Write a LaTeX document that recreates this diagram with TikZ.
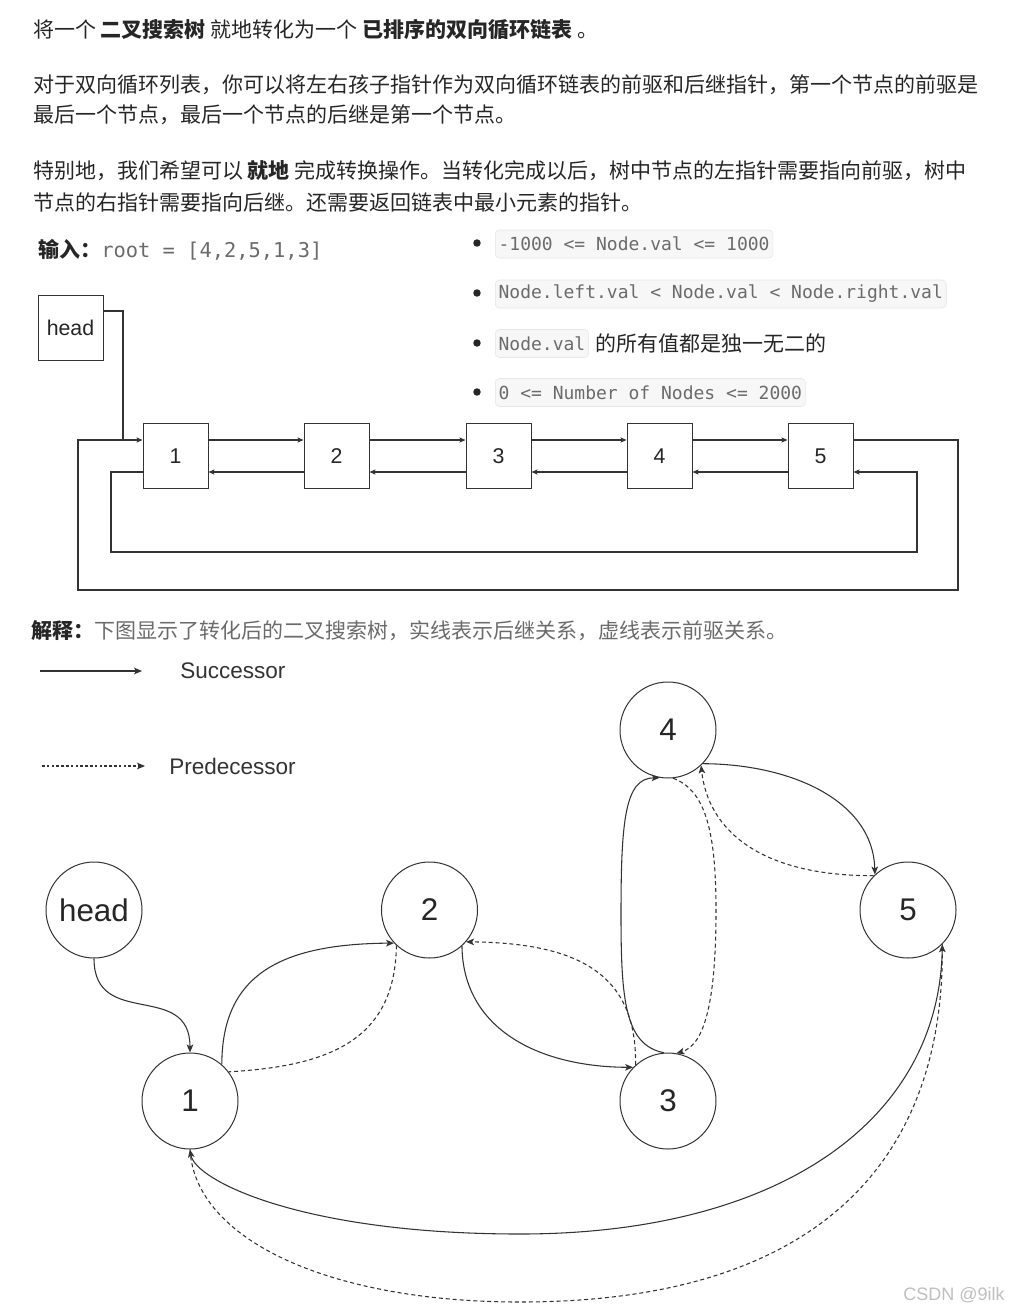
\documentclass[tikz,border=0pt]{standalone}
\usepackage{fontspec}
\setmainfont{Liberation Sans}
\setmonofont{DejaVu Sans Mono}
\newfontfamily\cjk{Noto Sans CJK SC}
\usetikzlibrary{arrows.meta,calc}
\definecolor{txt}{HTML}{262626}
\definecolor{gtxt}{HTML}{6B6B6B}
\definecolor{codefill}{HTML}{F7F7F7}
\definecolor{codeline}{HTML}{E6E6E6}
\definecolor{ln}{HTML}{333333}
\definecolor{wm}{HTML}{BFBFBF}
\begin{document}
\begin{tikzpicture}[x=0.75pt,y=-0.75pt,
  cjkline/.style={anchor=west,inner sep=0pt,font=\cjk\fontsize{15.75pt}{18pt}\selectfont,text=txt},
  codebox/.style={draw=codeline,fill=codefill,rounded corners=3pt,inner xsep=2.5pt,inner ysep=0pt,minimum height=21pt,anchor=west,font=\ttfamily\fontsize{13.5pt}{16pt}\selectfont,text=gtxt},
  sq/.style={draw=ln,line width=0.75pt,minimum size=48.75pt,inner sep=0pt,font=\fontsize{16pt}{19pt}\selectfont,text=txt},
  circ/.style={circle,draw=ln,line width=0.75pt,minimum size=72pt,inner sep=0pt,font=\fontsize{23.5pt}{28pt}\selectfont,text=txt},
  conn/.style={draw=ln,line width=0.8pt},
  arr/.style={-{Stealth[length=6pt,width=5pt,inset=1.5pt]}},
  sarr/.style={-{Stealth[length=4.5pt,width=3.8pt,inset=1pt]}},
  pred/.style={dash pattern=on 3pt off 2.2pt},
  legtext/.style={anchor=west,inner sep=0pt,font=\fontsize{16.9pt}{20pt}\selectfont,text=ln}
]
\useasboundingbox[fill=white] (0,0) rectangle (1008,1313);

% ---------- header text ----------
\node[cjkline] (t1) at (33,30) {将一个 \textbf{二叉搜索树} 就地转化为一个 \textbf{已排序的双向循环链表} 。};
\node[cjkline] (t2) at (33,85) {对于双向循环列表，你可以将左右孩子指针作为双向循环链表的前驱和后继指针，第一个节点的前驱是};
\node[cjkline] (t3) at (33,115) {最后一个节点，最后一个节点的后继是第一个节点。};
\node[cjkline] (t4) at (33,171) {特别地，我们希望可以 \textbf{就地} 完成转换操作。当转化完成以后，树中节点的左指针需要指向前驱，树中};
\node[cjkline] (t5) at (33,202) {节点的右指针需要指向后继。还需要返回链表中最小元素的指针。};

\node[cjkline] (t6) at (38,250) {\textbf{输入：}{\ttfamily\color{gtxt}\fontsize{15.3pt}{18pt}\selectfont root = [4,2,5,1,3]}};

% ---------- bullets ----------
\foreach \yy in {243,293,343,392} \fill[txt] (477,\yy) circle (2.8pt);
\node[codebox] (c1) at (495,244) {-1000 <= Node.val <= 1000};
\node[codebox] (c2) at (495,294) {Node.left.val < Node.val < Node.right.val};
\node[codebox] (c3) at (495,343.5) {Node.val};
\node[cjkline,anchor=west] (c3t) at ([xshift=4.5pt]c3.east) {的所有值都是独一无二的};
\node[codebox] (c4) at (495,392.5) {0 <= Number of Nodes <= 2000};

% ---------- top linked list ----------
\node[sq] (hb) at (70.5,327.5) {head};
\node[sq] (b1) at (175.5,456) {1};
\node[sq] (b2) at (336.5,456) {2};
\node[sq] (b3) at (498.5,456) {3};
\node[sq] (b4) at (659.5,456) {4};
\node[sq] (b5) at (820.5,456) {5};
\coordinate (hj) at (123,440);
\coordinate (oR) at (958,590);
\coordinate (oL) at (78,590);
\coordinate (iL) at (111,552);
\coordinate (iR) at (917,552);

\draw[conn] ([yshift=12.4pt]hb.east) -| (hj);
\foreach \a/\b in {b1/b2,b2/b3,b3/b4,b4/b5}{
  \draw[conn,sarr] ([yshift=12pt]\a.east) -- ([yshift=12pt]\b.west);
  \draw[conn,sarr] ([yshift=-12pt]\b.west) -- ([yshift=-12pt]\a.east);
}
\draw[conn,sarr] ([yshift=12pt]b5.east) -| (oR) -- (oL) |- ([yshift=12pt]b1.west);
\draw[conn,sarr] ([yshift=-12pt]b1.west) -| (iL) -- (iR) |- ([yshift=-12pt]b5.east);

% ---------- explanation ----------
\node[cjkline] (e1) at (31,631) {\textbf{解释：}{\color{gtxt}下图显示了转化后的二叉搜索树，实线表示后继关系，虚线表示前驱关系。}};

% ---------- legend ----------
\coordinate (ls1) at (40,671);
\coordinate (ls2) at (142,671);
\coordinate (lp1) at (42,766);
\coordinate (lp2) at (145,766);
\draw[conn,arr] (ls1) -- (ls2);
\draw[conn,arr,dash pattern=on 2pt off 1.6pt] (lp1) -- (lp2);
\node[legtext] (Ls) at (180,671) {Successor};
\node[legtext] (Lp) at (169,766) {Predecessor};

% ---------- tree / list graph ----------
\node[circ] (h) at (94,910) {head};
\node[circ] (n1) at (190,1101) {1};
\node[circ] (n2) at (429.5,910) {2};
\node[circ] (n3) at (668,1101) {3};
\node[circ] (n4) at (668,730) {4};
\node[circ] (n5) at (908,910) {5};

\draw[conn,arr] (h.south) .. controls (94,1030) and (190,980) .. (n1.north);
\draw[conn,arr] (n1.49) .. controls (222,975) and (280,944) .. (n2.223);
\draw[conn,pred] (n2.227) .. controls (395,1040) and (330,1066) .. (n1.37);
\draw[conn,arr] (n2.312) .. controls (463,1030) and (540,1067) .. (n3.136);
\draw[conn,pred,arr] (n3.132) .. controls (637,975) and (580,943) .. (n2.319);
\draw[conn,arr] (n3.95) .. controls (625,1045) and (621,1000) .. (621,915) .. controls (621,820) and (625,778) .. (n4.260);
\draw[conn,pred,arr] (n4.276) .. controls (705,790) and (716,830) .. (716,910) .. controls (716,1000) and (705,1045) .. (n3.80);
\draw[conn,arr] (n4.316) .. controls (790,764) and (873,800) .. (n5.133);
\draw[conn,pred,arr] (n5.135) .. controls (760,876) and (708,830) .. (n4.313);
\draw[conn,arr] (n5.315) .. controls (942,1120) and (780,1234) .. (520,1234) .. controls (300,1234) and (195,1180) .. (n1.south);
\draw[conn,pred,arr] (n1.south) .. controls (195,1240) and (330,1302) .. (520,1302) .. controls (830,1302) and (943,1150) .. (n5.315);

% ---------- watermark ----------
\node[anchor=west,inner sep=0pt,font=\fontsize{13.5pt}{16pt}\selectfont,text=wm] (wmk) at (903,1295) {CSDN @9ilk};
\end{tikzpicture}
\end{document}
